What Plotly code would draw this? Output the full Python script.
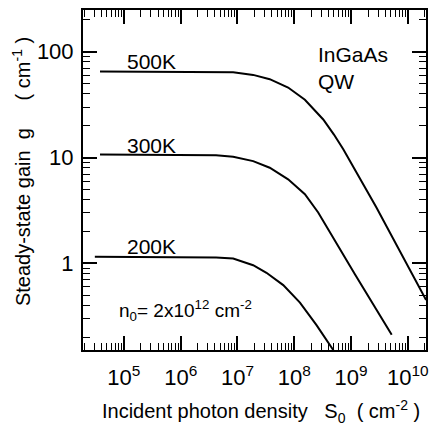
import plotly.graph_objects as go

# ---- data ----
s_500 = [3.8e4, 1e6, 4.2e6, 8.4e6, 1.89e7, 3.7e7, 7.8e7, 1.54e8, 3.24e8, 5e8, 7.3e8, 1.2e9, 2.8e9, 2.1e10]
g_500 = [65.0, 65.0, 64.7, 64.0, 60.4, 55.0, 45.9, 35.2, 22.9, 16.5, 12.0, 7.6, 3.38, 0.452]

s_300 = [3.8e4, 1e6, 4.2e6, 8.4e6, 1.89e7, 3.7e7, 7.8e7, 1.54e8, 2.64e8, 1.17e9, 5.2e9]
g_300 = [10.7, 10.65, 10.5, 10.2, 9.27, 8.02, 6.24, 4.51, 3.03, 0.79, 0.212]

s_200 = [3.08e4, 1e6, 4.2e6, 8.4e6, 1.89e7, 3.24e7, 6.4e7, 1.26e8, 2.45e8, 4.84e8, 5.0e8]
g_200 = [1.156, 1.15, 1.14, 1.114, 0.964, 0.817, 0.625, 0.427, 0.263, 0.153, 0.143]

curve_labels = ["500K", "300K", "200K"]
x_tick_exps = [5, 6, 7, 8, 9, 10]
y_tick_vals = [1, 10, 100]

FONT = "Arial, Liberation Sans, sans-serif"

fig = go.Figure()
for s, g in [(s_500, g_500), (s_300, g_300), (s_200, g_200)]:
    fig.add_trace(go.Scatter(x=s, y=g, mode="lines", line=dict(color="black", width=2),
                             showlegend=False, hoverinfo="skip"))

x_minor = [m * 10 ** e for e in range(4, 11) for m in range(2, 10)]
y_minor = [m * 10 ** e for e in range(-1, 3) for m in range(2, 10)]

axis_common = dict(showline=True, linecolor="black", linewidth=2, mirror="ticks",
                   ticks="inside", ticklen=14, tickwidth=2, tickcolor="black",
                   showgrid=False, zeroline=False)

fig.update_xaxes(type="log", range=[4.28, 10.32], tickmode="array",
                 tickvals=[10 ** e for e in x_tick_exps],
                 ticktext=["10<sup>%d</sup>" % e for e in x_tick_exps],
                 tickfont=dict(family=FONT, size=22, color="black"), ticklabelstandoff=7,
                 minor=dict(tickmode="array", tickvals=x_minor, ticks="inside", ticklen=7, tickwidth=1,
                            tickcolor="black", showgrid=False),
                 **axis_common)
fig.update_yaxes(type="log", range=[-0.817, 2.394], tickmode="array",
                 tickvals=y_tick_vals, ticktext=[str(v) for v in y_tick_vals],
                 tickfont=dict(family=FONT, size=22, color="black"), ticklabelstandoff=3,
                 minor=dict(tickmode="array", tickvals=y_minor, ticks="inside", ticklen=7, tickwidth=1,
                            tickcolor="black", showgrid=False),
                 **axis_common)

ann_font = dict(family=FONT, size=21, color="black")
for lab, yp in zip(curve_labels, [0.848, 0.601, 0.303]):
    fig.add_annotation(text=lab, xref="paper", yref="paper", x=0.201, y=yp,
                       xanchor="center", yanchor="middle", showarrow=False, font=ann_font)
fig.add_annotation(text="InGaAs<br>QW", xref="paper", yref="paper", x=0.68, y=0.83,
                   xanchor="left", yanchor="middle", align="left", showarrow=False, font=ann_font)
fig.add_annotation(text="n<sub>0</sub>= 2x10<sup>12</sup> cm<sup>-2</sup>", xref="paper", yref="paper",
                   x=0.1, y=0.117, xanchor="left", yanchor="middle", showarrow=False,
                   font=dict(family=FONT, size=19, color="black"))

NB = "\u00a0"
fig.add_annotation(text="Incident photon density" + NB * 3 + "S<sub>0</sub>" + NB * 2 + "(" + NB + "cm<sup>-2</sup>" + NB + ")",
                   xref="paper", yref="paper", x=0.52, y=-0.181, xanchor="center", yanchor="middle",
                   showarrow=False, font=dict(family=FONT, size=20, color="black"))
fig.add_annotation(text="Steady-state gain" + NB * 2 + "g" + NB * 5 + "(" + NB + "cm<sup>-1</sup>" + NB + ")",
                   xref="paper", yref="paper", x=-0.181, y=0.526, xanchor="center", yanchor="middle",
                   textangle=-90, showarrow=False, font=dict(family=FONT, size=20, color="black"))

fig.update_layout(width=438, height=426, margin=dict(l=83, r=12, t=8, b=76),
                  paper_bgcolor="white", plot_bgcolor="white", font=dict(family=FONT))

fig.write_html("out.html")
